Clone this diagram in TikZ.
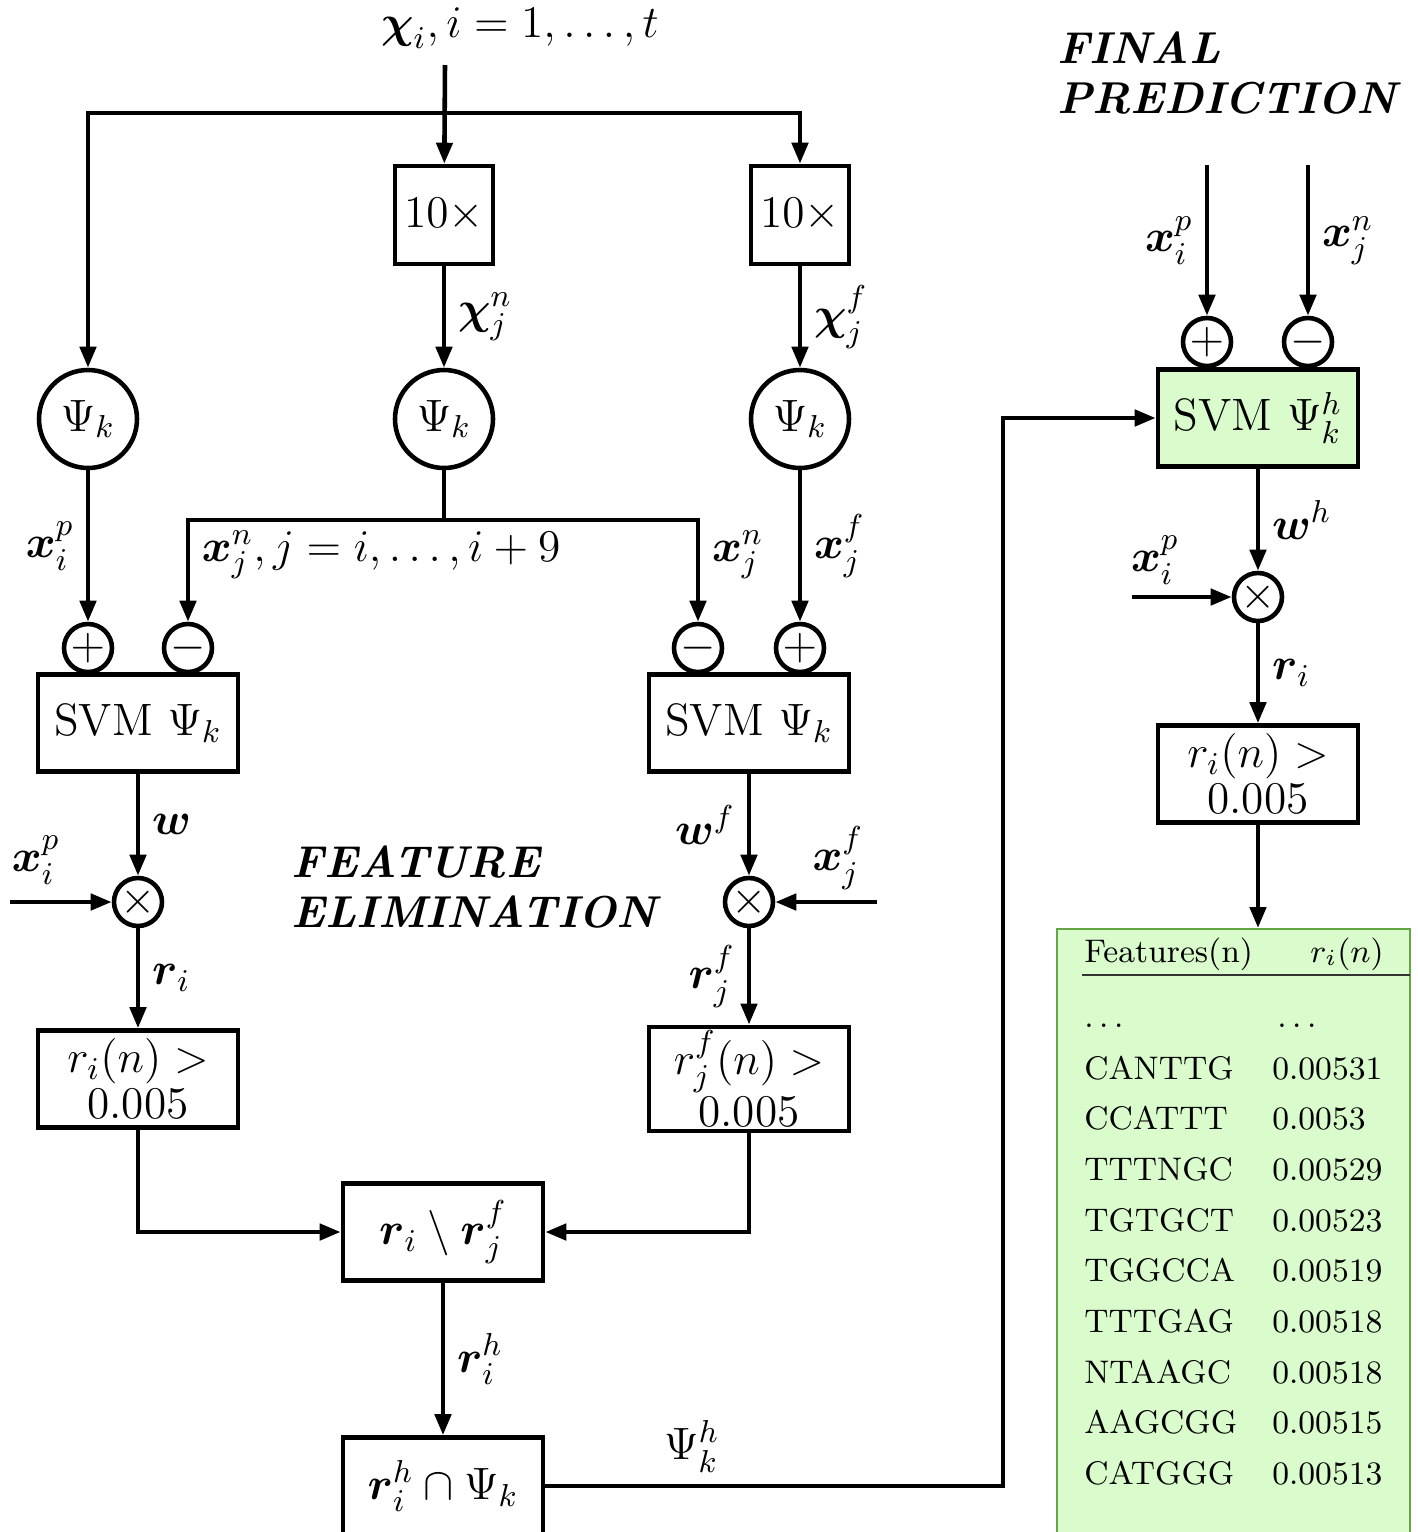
\RequirePackage{fix-cm}
\documentclass[tikz,border=0pt]{standalone}
\usepackage{amsmath,amssymb}
\usetikzlibrary{positioning,arrows.meta}
\definecolor{svmgreen}{RGB}{218,251,204}
\definecolor{tabedge}{RGB}{100,165,70}

\begin{document}
\begin{tikzpicture}[
    >={Triangle[length=2.1mm,width=1.6mm]},
    font=\fontsize{12.9}{13.2}\selectfont,
    line width=1.3pt,
    blk/.style={draw,minimum width=2cm,minimum height=0.97cm,align=center,
      inner sep=1pt},
    rep/.style={draw,minimum width=0.98cm,minimum height=0.98cm,inner sep=0pt},
    proj/.style={draw,circle,minimum size=0.98cm,inner sep=0pt},
    sgn/.style={draw,circle,minimum size=0.48cm,inner sep=0pt},
    flow/.style={->},
    stage/.style={anchor=west,align=left,
      font=\fontsize{12.7}{14.3}\selectfont\bfseries\itshape},
    tabtxt/.style={anchor=base west,inner sep=0pt,
      font=\fontsize{9.3}{10}\selectfont}
  ]
  \useasboundingbox (0,0) rectangle (14.18,-15.32);

  % input and the three branches
  \node (in) at (5.20,-0.28) {$\boldsymbol{\chi}_i, i = 1,\ldots,t$};
  \coordinate (src) at (4.45,-0.65);
  \coordinate (split) at (4.45,-1.13);
  \node[rep] (rep1) at (4.44,-2.15) {$10\times$};
  \node[rep] (rep2) at (8.00,-2.15) {$10\times$};
  \node[proj] (proj1) at (0.88,-4.19) {$\Psi_k$};
  \node[proj] (proj2) at (4.44,-4.19) {$\Psi_k$};
  \node[proj] (proj3) at (8.00,-4.19) {$\Psi_k$};

  % sign inputs and the two SVMs
  \node[sgn] (p1) at (0.88,-6.48) {$+$};
  \node[sgn] (m1) at (1.88,-6.48) {$-$};
  \node[sgn] (m2) at (6.98,-6.48) {$-$};
  \node[sgn] (p2) at (8.00,-6.48) {$+$};
  \node[blk] (svm1) at (1.38,-7.23) {SVM $\Psi_k$};
  \node[blk] (svm2) at (7.49,-7.23) {SVM $\Psi_k$};
  \coordinate (fork) at (4.44,-5.20);

  % weighting and thresholds
  \node[sgn] (mul1) at (1.38,-9.02) {$\times$};
  \node[sgn] (mul2) at (7.49,-9.02) {$\times$};
  \coordinate (in1) at (0.10,-9.02);
  \coordinate (in2) at (8.77,-9.02);
  \node[blk] (thr1) at (1.38,-10.79) {$r_i(n) >$\\0.005};
  \node[blk] (thr2) at (7.49,-10.79) {$r_j^f(n) >$\\0.005};
  \node[blk] (diff) at (4.43,-12.32)
    {$\boldsymbol{r}_i \setminus \boldsymbol{r}_j^f$};
  \node[blk] (inter) at (4.43,-14.86) {$\boldsymbol{r}_i^h \cap \Psi_k$};
  \coordinate (bend) at (10.03,-14.86);

  \node[stage] (fe) at (2.78,-8.87) {FEATURE\\ELIMINATION};

  % final prediction column
  \node[stage] (fp) at (10.43,-0.73) {FINAL\\PREDICTION};
  \coordinate (inp) at (12.07,-1.65);
  \coordinate (inn) at (13.08,-1.65);
  \node[sgn] (ph) at (12.07,-3.42) {$+$};
  \node[sgn] (mh) at (13.08,-3.42) {$-$};
  \node[blk,fill=svmgreen] (svmh) at (12.58,-4.18) {SVM $\Psi_k^h$};
  \node[sgn] (mulh) at (12.58,-5.97) {$\times$};
  \coordinate (inh) at (11.32,-5.97);
  \node[blk] (thrh) at (12.58,-7.74) {$r_i(n) >$\\0.005};

  % ranked features
  \node[draw=tabedge,fill=svmgreen,line width=0.7pt,minimum width=3.53cm,
    minimum height=6.6cm,anchor=north] (tab) at (12.335,-9.28) {};
  \node[tabtxt] (hfeat) at (10.82,-9.62) {Features(n)};
  \node[tabtxt] (hscore) at (13.08,-9.62) {$r_i(n)$};
  \draw[line width=0.8pt,black!80] (10.82,-9.75) -- (14.10,-9.75);
  \node[tabtxt] (dfeat) at (10.82,-10.27) {$\ldots$};
  \node[tabtxt] (dscore) at (12.75,-10.27) {$\ldots$};
  \foreach \feat/\score [count=\r] in {CANTTG/0.00531,CCATTT/0.0053,
      TTTNGC/0.00529,TGTGCT/0.00523,TGGCCA/0.00519,TTTGAG/0.00518,
      NTAAGC/0.00518,AAGCGG/0.00515,CATGGG/0.00513}{
    \node[tabtxt] (feat\r) at (10.82,{-10.79-0.507*(\r-1)}) {\feat};
    \node[tabtxt] (score\r) at (12.70,{-10.79-0.507*(\r-1)}) {\score};
  }

  % connections
  \draw[flow] (src) -- (rep1);
  \draw[flow] (split) -| (proj1);
  \draw[flow] (split) -| (rep2);
  \draw[flow] (rep1) -- node[midway,right] (lchn) {$\boldsymbol{\chi}_j^n$} (proj2);
  \draw[flow] (rep2) -- node[midway,right] (lchf) {$\boldsymbol{\chi}_j^f$} (proj3);
  \draw[flow] (proj1) -- node[midway,left] (lxp) {$\boldsymbol{x}_i^p$} (p1);
  \draw[flow] (proj3) -- node[midway,right] (lxf) {$\boldsymbol{x}_j^f$} (p2);
  \draw (proj2) -- (fork);
  \draw[flow] (fork) -| (m1);
  \draw[flow] (fork) -| (m2);
  \node[anchor=west] (lxn1) at (1.88,-5.55) {$\boldsymbol{x}_j^n, j = i,\ldots,i+9$};
  \node[anchor=west] (lxn2) at (6.98,-5.55) {$\boldsymbol{x}_j^n$};

  \draw[flow] (svm1) -- node[midway,right] (lw) {$\boldsymbol{w}$} (mul1);
  \draw[flow] (in1) -- (mul1);
  \node (lxp1) at (0.36,-8.60) {$\boldsymbol{x}_i^p$};
  \draw[flow] (mul1) -- node[midway,right] (lr) {$\boldsymbol{r}_i$} (thr1);
  \draw[flow] (svm2) -- node[midway,left] (lwf) {$\boldsymbol{w}^f$} (mul2);
  \draw[flow] (in2) -- (mul2);
  \node (lxf1) at (8.38,-8.58) {$\boldsymbol{x}_j^f$};
  \draw[flow] (mul2) -- node[midway,left] (lrf) {$\boldsymbol{r}_j^f$} (thr2);

  \draw[flow] (thr1) |- (diff);
  \draw[flow] (thr2) |- (diff);
  \draw[flow] (diff) -- node[midway,right] (lrh) {$\boldsymbol{r}_i^h$} (inter);
  \draw[flow] (inter) -- node[pos=0.32,above] (lpsi) {$\Psi_k^h$} (bend) |- (svmh);

  \draw[flow] (inp) -- node[midway,left] (lxph) {$\boldsymbol{x}_i^p$} (ph);
  \draw[flow] (inn) -- node[midway,right] (lxnh) {$\boldsymbol{x}_j^n$} (mh);
  \draw[flow] (svmh) -- node[midway,right] (lwh) {$\boldsymbol{w}^h$} (mulh);
  \draw[flow] (inh) -- (mulh);
  \node (lxph1) at (11.55,-5.60) {$\boldsymbol{x}_i^p$};
  \draw[flow] (mulh) -- node[midway,right] (lrh2) {$\boldsymbol{r}_i$} (thrh);
  \draw[flow] (thrh) -- (tab.north -| thrh);
\end{tikzpicture}
\end{document}
